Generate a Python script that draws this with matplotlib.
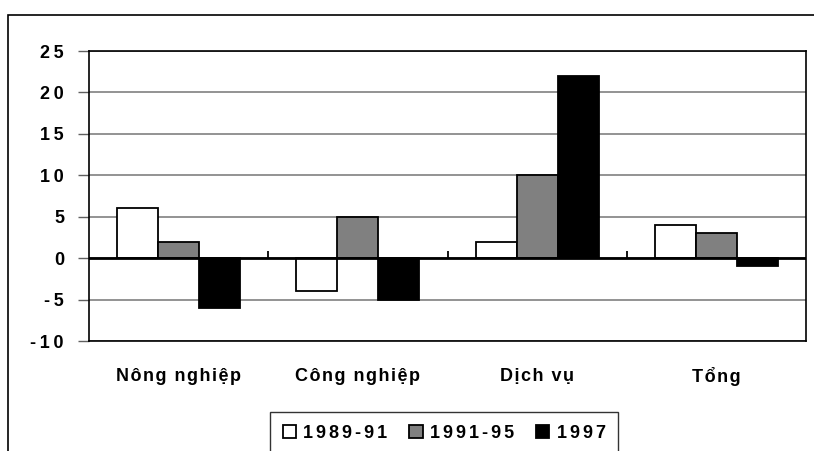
import unicodedata
import matplotlib.pyplot as plt
import matplotlib.patches as mpatches
import numpy as np

plt.rcParams['font.family'] = ['Liberation Sans', 'DejaVu Sans']

# data
categories = ["Nông nghiệp", "Công nghiệp", "Dịch vụ", "Tổng"]
series_names = ["1989-91", "1991-95", "1997"]
v_1989_91 = [6, -4, 2, 4]
v_1991_95 = [2, 5, 10, 3]
v_1997 = [-6, -5, 22, -1]
colors = ["white", "#808080", "black"]
yticks = [-10, -5, 0, 5, 10, 15, 20, 25]


def spaced(s, gap="\u200a"):
    # mimic the wide letter spacing of the original chart
    s = unicodedata.normalize("NFC", s)
    return gap.join(s)


W, H = 814, 451
fig = plt.figure(figsize=(W / 100, H / 100), dpi=100)

# outer chart frame (cropped at right and bottom)
frame = mpatches.Rectangle((8 / W, -0.2), 1.2, 1.2 - 15 / H, transform=fig.transFigure,
                           fill=False, edgecolor="black", linewidth=1.2)
fig.patches.append(frame)

ax = fig.add_axes([89 / W, 1 - 341 / H, (806 - 89) / W, (341 - 51) / H])

x = np.arange(len(categories))
bw = 0.229
for i, (vals, c, name) in enumerate(zip([v_1989_91, v_1991_95, v_1997], colors, series_names)):
    ax.bar(x + (i - 1) * bw, vals, width=bw, color=c, edgecolor="black",
           linewidth=1.3, label=spaced(name, "\u2006"), zorder=3)

ax.set_xlim(-0.5, len(categories) - 0.5)
ax.set_ylim(-10, 25)
ax.set_yticks(yticks)
ax.set_yticklabels([spaced(str(t), "\u2009") for t in yticks], fontsize=13, fontweight="bold")
ax.tick_params(axis="y", direction="out", length=8, width=1, pad=10, color="#606060")
ax.set_xticks([])
ax.yaxis.grid(True, color="#808080", linewidth=1.2, zorder=0)
for s in ax.spines.values():
    s.set_color("black")
    s.set_linewidth(1.2)

# zero line with category separator ticks
ax.axhline(0, color="black", linewidth=2, zorder=4)
ax.vlines(x[:-1] + 0.5, 0, 0.9, color="black", linewidth=1.3, zorder=4)

for xi, name in zip(x, categories):
    ax.text(xi, -14.3, spaced(name), ha="center", va="center", fontsize=13,
            fontweight="bold")

leg = fig.legend(loc="upper left", bbox_to_anchor=(270 / W, 1 - 412 / H), ncol=3,
                 frameon=True, fancybox=False, edgecolor="black", borderaxespad=0,
                 prop={"weight": "bold", "size": 13}, handlelength=0.75, handleheight=0.75,
                 handletextpad=0.4, columnspacing=1.2, borderpad=0.7)
leg.get_frame().set_linewidth(1.0)

plt.savefig("out.png", dpi=100)
